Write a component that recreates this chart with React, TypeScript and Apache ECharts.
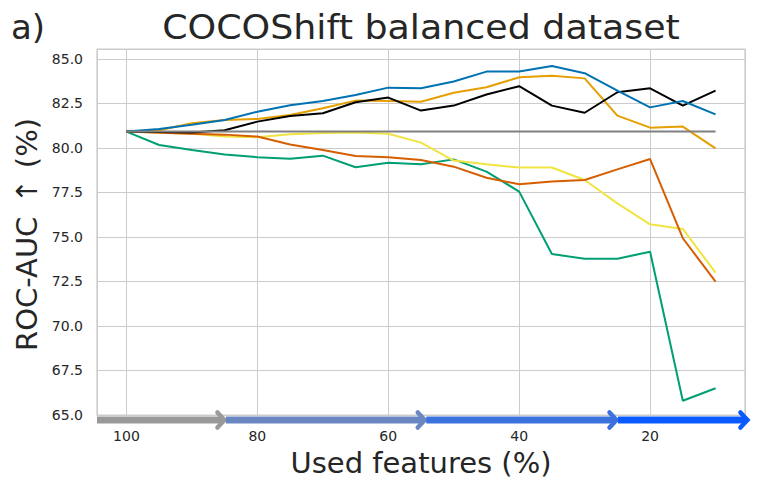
import React, { useEffect, useRef } from "react";
import * as echarts from "echarts";

const features = [100, 95, 90, 85, 80, 75, 70, 65, 60, 55, 50, 45, 40, 35, 30, 25, 20, 15, 10];

const blueVals = [80.92, 81.07, 81.3, 81.57, 82.04, 82.4, 82.64, 82.98, 83.39, 83.35, 83.73, 84.29, 84.29, 84.6, 84.2, 83.22, 82.28, 82.64, 81.89];
const blackVals = [80.92, 80.9, 80.87, 81.0, 81.48, 81.8, 81.95, 82.57, 82.83, 82.1, 82.38, 83.0, 83.47, 82.38, 81.98, 83.13, 83.35, 82.38, 83.22];
const goldVals = [80.92, 81.0, 81.39, 81.57, 81.63, 81.85, 82.23, 82.66, 82.64, 82.6, 83.1, 83.41, 83.97, 84.06, 83.91, 81.82, 81.14, 81.2, 79.98];
const grayVals = [80.92, 80.92, 80.92, 80.92, 80.92, 80.92, 80.92, 80.92, 80.92, 80.92, 80.92, 80.92, 80.92, 80.92, 80.92, 80.92, 80.92, 80.92, 80.92];
const vermillionVals = [80.92, 80.85, 80.8, 80.75, 80.64, 80.2, 79.89, 79.55, 79.48, 79.33, 78.95, 78.33, 77.96, 78.11, 78.2, 78.8, 79.38, 74.93, 72.49];
const yellowVals = [80.92, 80.87, 80.8, 80.64, 80.6, 80.77, 80.84, 80.87, 80.8, 80.3, 79.29, 79.08, 78.9, 78.9, 78.2, 76.89, 75.71, 75.45, 73.0];
const greenVals = [80.92, 80.17, 79.89, 79.64, 79.48, 79.4, 79.57, 78.92, 79.17, 79.08, 79.36, 78.67, 77.55, 74.04, 73.78, 73.78, 74.17, 65.8, 66.5];

const seriesDefs = [
  { name: "green", color: "#009E73", values: greenVals },
  { name: "yellow", color: "#F0E442", values: yellowVals },
  { name: "vermillion", color: "#D55E00", values: vermillionVals },
  { name: "gold", color: "#E69F00", values: goldVals },
  { name: "black", color: "#000000", values: blackVals },
  { name: "blue", color: "#0072B2", values: blueVals },
  { name: "gray", color: "#808080", values: grayVals },
];

// progress arrow segments along the x axis: [from, to]
const arrowStarts = [104.5, 84.8, 54.2, 24.9];
const arrowEnds = [84.8, 54.2, 24.9, 4.9];
const arrowColors = ["#999999", "#6A87C1", "#3B72DE", "#0A5AFF"];

const TEXT = "#262626";
const FONT = "DejaVu Sans";

export default function App() {
  const ref = useRef<HTMLDivElement>(null);
  useEffect(() => {
    document.body.style.margin = "0";
    if (!ref.current) return;
    const chart = echarts.init(ref.current, undefined, { renderer: "svg" });
    const lineSeries = seriesDefs.map((s) => ({
      name: s.name,
      type: "line",
      data: features.map((f, i) => [f, s.values[i]]),
      showSymbol: false,
      symbol: "none",
      lineStyle: { color: s.color, width: 2 },
      itemStyle: { color: s.color },
      silent: true,
      z: 3,
    }));
    const arrowSeries = {
      type: "custom",
      silent: true,
      clip: false,
      z: 10,
      encode: { x: [0, 1], y: 2 },
      data: arrowStarts.map((s, i) => [s, arrowEnds[i], 65]),
      renderItem: (params: any, api: any) => {
        const p0 = api.coord([api.value(0), api.value(2)]);
        const p1 = api.coord([api.value(1), api.value(2)]);
        const y = p0[1] + 5;
        const color = arrowColors[params.dataIndex];
        const tip = p1[0] - 1.5;
        return {
          type: "group",
          children: [
            {
              type: "line",
              shape: { x1: p0[0], y1: y, x2: tip - 2, y2: y },
              style: { stroke: color, lineWidth: 7 },
            },
            {
              type: "polyline",
              shape: { points: [[tip - 7, y - 7.5], [tip, y], [tip - 7, y + 7.5]] },
              style: { stroke: color, lineWidth: 4.5, fill: "none", lineJoin: "miter", lineCap: "round" },
            },
          ],
        };
      },
    };
    const yName = (text: string, y: number, align: string) => ({
      type: "text",
      x: 27,
      y,
      rotation: Math.PI / 2,
      style: {
        text,
        fill: TEXT,
        font: `29px "${FONT}"`,
        align,
        verticalAlign: "middle",
      },
    });
    chart.setOption({
      animation: false,
      backgroundColor: "#ffffff",
      grid: {
        left: 97,
        right: 16,
        top: 49,
        bottom: 78,
        show: true,
        borderColor: "#cccccc",
        borderWidth: 1.25,
        backgroundColor: "transparent",
      },
      xAxis: {
        type: "value",
        inverse: true,
        min: 5.5,
        max: 104.5,
        axisLine: { show: false },
        axisTick: { show: false },
        splitLine: { show: true, lineStyle: { color: "#cccccc", width: 1 } },
        axisLabel: {
          color: TEXT,
          fontFamily: FONT,
          fontSize: 14,
          margin: 14,
          formatter: (v: number) => (Math.abs(v % 20) < 1e-6 ? String(v) : ""),
        },
      },
      yAxis: {
        type: "value",
        min: 65,
        max: 85.56,
        interval: 2.5,
        axisLine: { show: false },
        axisTick: { show: false },
        splitLine: { show: true, lineStyle: { color: "#cccccc", width: 1 } },
        axisLabel: {
          color: TEXT,
          fontFamily: FONT,
          fontSize: 14,
          margin: 14,
          showMaxLabel: false,
          formatter: (v: number) => (Math.abs(v % 2.5) < 1e-6 ? v.toFixed(1) : ""),
        },
      },
      graphic: [
        {
          type: "text",
          x: 421,
          y: 27,
          scaleX: 1.07,
          style: {
            text: "COCOShift balanced dataset",
            fill: TEXT,
            font: `34px "${FONT}"`,
            align: "center",
            verticalAlign: "middle",
          },
        },
        {
          type: "text",
          x: 11,
          y: 27,
          style: {
            text: "a)",
            fill: TEXT,
            font: `34px "${FONT}"`,
            align: "left",
            verticalAlign: "middle",
          },
        },
        yName("ROC-AUC", 351, "left"),
        yName("↑", 191, "center"),
        yName("(%)", 118, "right"),
        {
          type: "text",
          x: 421,
          y: 463,
          style: {
            text: "Used features (%)",
            fill: TEXT,
            font: `29px "${FONT}"`,
            align: "center",
            verticalAlign: "middle",
          },
        },
      ],
      series: [...lineSeries, arrowSeries],
    });
    return () => chart.dispose();
  }, []);
  return <div ref={ref} style={{ width: 761, height: 493 }} />;
}
